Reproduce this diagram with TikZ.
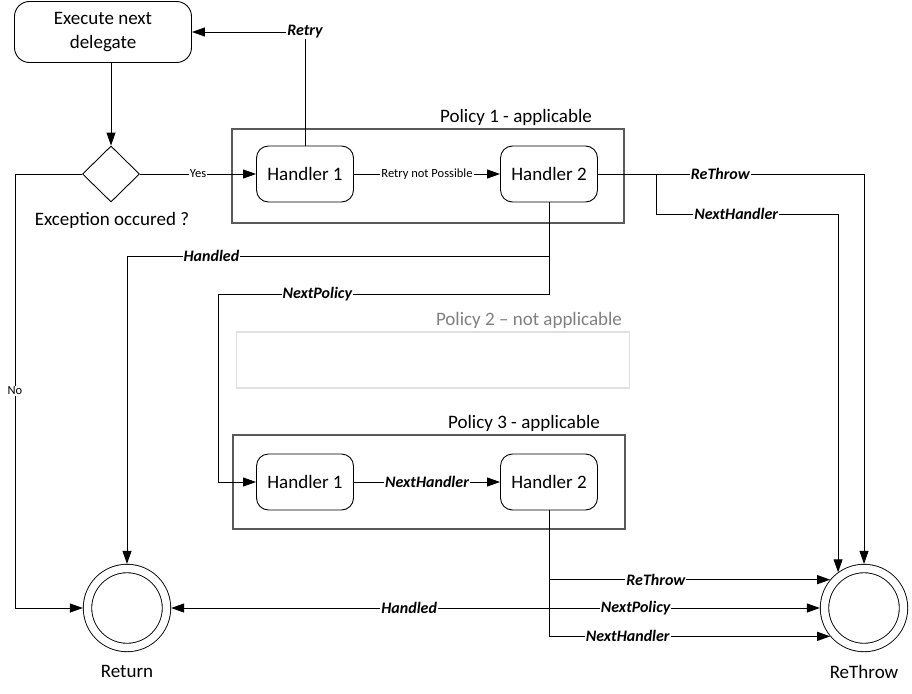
\documentclass[tikz,border=0pt]{standalone}
\usepackage{fontspec}
\setmainfont{Carlito}
\usetikzlibrary{arrows.meta,shapes.geometric}

\begin{document}
\begin{tikzpicture}
    [x=1pt,y=-1pt,->,>={Triangle[length=13pt,width=9pt]},line width=0.9pt,
     every node/.style={font=\fontsize{19}{24}\selectfont},
     handler/.style={draw,rounded corners=12pt,minimum width=97pt,minimum height=56pt},
     policy/.style={draw=black!65,line width=1.1pt,minimum width=392pt,minimum height=94pt},
     final/.style={circle,draw,double,double distance=7.5pt,minimum size=79pt,outer sep=4.6pt},
     lbl/.style={fill=white,inner sep=1pt,font=\fontsize{16}{18}\selectfont\bfseries\itshape},
     small/.style={fill=white,inner sep=1pt,font=\fontsize{12.5}{14}\selectfont}]
    \useasboundingbox (0,0) rectangle (912,693);

    \node[draw,rounded corners=15pt,minimum width=177pt,minimum height=61pt,align=center] (exec) at (103,32) {Execute next\\delegate};
    \node[diamond,draw,minimum width=57pt,minimum height=56pt,inner sep=0pt] (dec) at (111,174) {};
    \node (declbl) at (112,220) {Exception occured ?};

    \node[policy] (pol1) at (428,176) {};
    \node (pol1lbl) at (516,117) {Policy 1 - applicable};
    \node[policy,draw=black!12,minimum width=393pt,minimum height=56pt] (pol2) at (433,360) {};
    \node[text=black!50] (pol2lbl) at (529,320) {Policy 2 -- not applicable};
    \node[policy] (pol3) at (429,482) {};
    \node (pol3lbl) at (524,423) {Policy 3 - applicable};

    \node[handler] (p1h1) at (305,174) {Handler 1};
    \node[handler] (p1h2) at (549,174) {Handler 2};
    \node[handler] (p3h1) at (305,482) {Handler 1};
    \node[handler] (p3h2) at (549,482) {Handler 2};

    \node[final] (ret) at (127,608) {};
    \node[final] (rt) at (864,608) {};
    \node (retlbl) at (127,671) {Return};
    \node (rtlbl) at (864,672) {ReThrow};

    \coordinate (nocorner) at (15,174);
    \coordinate (nh) at (656,174);
    \coordinate (hd) at (549,256);
    \coordinate (np) at (549,294);
    \coordinate (npc) at (218,294);
    \coordinate (p3c) at (549,608);

    \path (exec.south -| dec.north) edge (dec.north);
    \path (dec) edge node[small]{Yes} (p1h1);
    \path (p1h1) edge node[small]{Retry not Possible} (p1h2);
    \path (p3h1) edge node[lbl]{NextHandler} (p3h2);

    \draw (p1h1.north) |- node[lbl]{Retry} (exec.east);
    \draw (p1h2.east) -| node[lbl,pos=0.23]{ReThrow} (rt.north);
    \draw (nh) -- ++(0,40) -| node[lbl,pos=0.22]{NextHandler} (rt.126);
    \draw (p1h2.south) -- (hd) -| node[lbl,pos=0.4]{Handled} (ret.north);
    \draw (hd) -- (np) -- node[lbl,pos=0.7]{NextPolicy} (npc) |- (p3h1.west);

    \draw (p3h2.south) |- node[lbl,pos=0.69]{ReThrow} (rt.140);
    \draw (p3h2.south) |- node[lbl,pos=0.64]{NextHandler} (rt.220);
    \draw (p3c) -- node[lbl,pos=0.32]{NextPolicy} (rt.west);
    \draw (p3c) -- node[lbl,pos=0.37]{Handled} (ret.east);
    \draw (dec.west) -- (nocorner) |- node[small,pos=0.25]{No} (ret.west);

\end{tikzpicture}
\end{document}
